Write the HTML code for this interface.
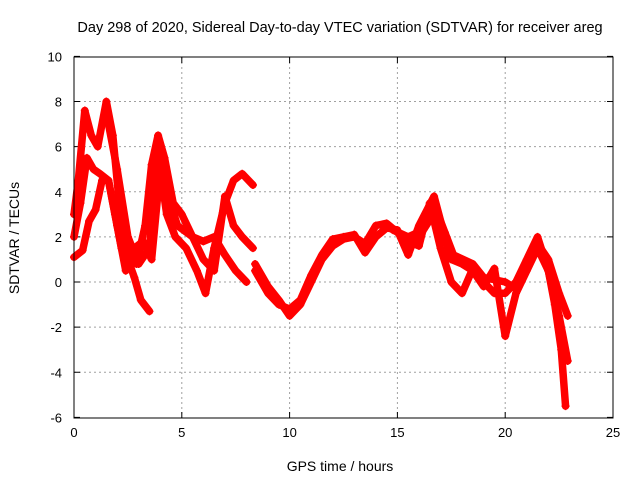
<!DOCTYPE html>
<html><head><meta charset="utf-8"><style>
body{margin:0;background:#fff;}
svg{display:block;font-family:"Liberation Sans",sans-serif;}
</style></head><body>
<svg id="chart" width="640" height="480">
<text x="340" y="32" font-size="14.5" text-anchor="middle">Day 298 of 2020, Sidereal Day-to-day VTEC variation (SDTVAR) for receiver areg</text>
<text x="340" y="471" font-size="14" text-anchor="middle">GPS time / hours</text>
<text transform="translate(19,238) rotate(-90)" font-size="14" text-anchor="middle">SDTVAR / TECUs</text>
<g id="grid"></g><g id="series"></g>
<rect x="74" y="57" width="539" height="361" fill="none" stroke="#000" stroke-width="1"/>
</svg>
<script>
const xTicks=[0,5,10,15,20,25];
const yTicks=[-6,-4,-2,0,2,4,6,8,10];
const t1=[0,0.2,0.5,0.8,1.1,1.5,1.8,2.1,2.5,2.8,3.1,3.5];
const v1=[3,4.5,7.6,6.5,6,8,6.5,3.5,1,0.2,-0.8,-1.3];
const t2=[0,0.4,0.7,1.0,1.3,1.6,1.9,2.2,2.5,2.9,3.3,3.6,3.9,4.2,4.6,5.0,5.5,6.0,6.5,7.0,7.5,8.0];
const v2=[1.1,1.4,2.7,3.2,4.5,4.5,3,1.5,1,0.8,2.5,5.2,6.5,5.5,3.5,3,2,1.8,2,1.2,0.5,0];
const t3=[0,0.3,0.6,0.9,1.2,1.6,2.0,2.4,2.8,3.2,3.6,4.0,4.3,4.7,5.2,5.7,6.1,6.5,7.0,7.4,7.8,8.3];
const v3=[2,3.5,5.5,5,4.8,4.5,2.5,0.5,1.5,1.8,1,5,3,2,1.5,0.5,-0.5,1.5,3.5,4.5,4.8,4.3];
const t4=[1.5,2.0,2.5,3.0,3.5,3.9,4.3,4.8,5.5,6.0,6.5,7.0,7.4,7.8,8.3];
const v4=[7.5,5,2,0.8,1.5,6,4,2.5,2,1,0.5,3.8,2.5,2,1.5];
const t5=[8.4,9,9.5,10,10.5,11,11.5,12,12.5,13,13.5,14,14.5,15,15.5,16,16.5,17,17.5,18,18.5,19,19.5,20,20.5,21,21.5,22,22.3,22.6,22.8];
const v5=[0.8,-0.2,-0.8,-1.5,-1,0,1,1.6,1.9,2,1.7,2.5,2.6,2.2,1.8,1.6,3.5,1.5,0,-0.5,0.6,0,-0.5,-0.5,0,1,2,0.5,-1,-3,-5.5];
const t6=[8.4,9,9.5,10,10.5,11,11.5,12,12.5,13,13.5,14,14.5,15,15.5,16,16.7,17.2,17.5,18,18.5,19,19.5,20,20.5,21,21.5,22,22.5,22.9];
const v6=[0.5,-0.5,-1,-1.2,-0.8,0.3,1.2,1.9,2,2.1,1.3,2,2.4,2.3,1.2,2.5,3.8,2,1,0.8,0.5,-0.2,0.6,-2.4,-0.5,0.5,1.5,0.5,-1.5,-3.5];
const t7=[14.8,15.5,16.2,16.8,17.2,17.6,18.5,19,20,20.5,21,21.5,22,22.5,22.9];
const v7=[2.3,2,2.3,3.2,2.2,1.2,0.8,0.2,0,-0.3,0.8,1.7,1,-0.5,-1.5];
const tracks=[[t1,v1],[t2,v2],[t3,v3],[t4,v4],[t5,v5],[t6,v6],[t7,v7]];
const NS='http://www.w3.org/2000/svg';
const X=h=>74+h*(539/25);
const Y=v=>282-v*(361/16);
const grid=document.getElementById('grid');
function mk(tag,attrs,parent){const e=document.createElementNS(NS,tag);for(const k in attrs)e.setAttribute(k,attrs[k]);parent.appendChild(e);return e;}
xTicks.forEach(t=>{
  const x=X(t);
  if(t>0&&t<25){const l=mk('line',{x1:x,y1:57,x2:x,y2:418,stroke:'#a0a0a0','stroke-dasharray':'2,3'},grid);
  
  }
  mk('line',{x1:x,y1:418,x2:x,y2:412,stroke:'#000'},grid);
  mk('line',{x1:x,y1:57,x2:x,y2:63,stroke:'#000'},grid);
  const tx=mk('text',{x:x,y:437,'font-size':13,'text-anchor':'middle'},grid);
  tx.textContent=t;
  
  
});
yTicks.forEach(t=>{
  const y=Y(t);
  if(t>-6&&t<10){const l=mk('line',{x1:74,y1:y,x2:613,y2:y,stroke:'#a0a0a0','stroke-dasharray':'2,3'},grid);
  
  }
  mk('line',{x1:74,y1:y,x2:80,y2:y,stroke:'#000'},grid);
  mk('line',{x1:613,y1:y,x2:607,y2:y,stroke:'#000'},grid);
  const tx=mk('text',{x:62,y:y+5,'font-size':13,'text-anchor':'end'},grid);
  tx.textContent=t;
  
  
});
const ser=document.getElementById('series');
tracks.forEach(([ts,vs],i)=>{
  const g=mk('g',{},ser);
  
  
  const pts=ts.map((t,j)=>X(t)+','+Y(vs[j])).join(' ');
  mk('polyline',{points:pts,fill:'none',stroke:'#ff0000','stroke-width':7.5,'stroke-linejoin':'round','stroke-linecap':'round'},g);
  ts.forEach((t,j)=>{
    const x=X(t),y=Y(vs[j]);
    const p=mk('path',{d:`M${x-4},${y}H${x+4}M${x},${y-4}V${y+4}`,stroke:'#ff0000','stroke-width':1.5},g);
    
    
  });
});
</script>
</body></html>
